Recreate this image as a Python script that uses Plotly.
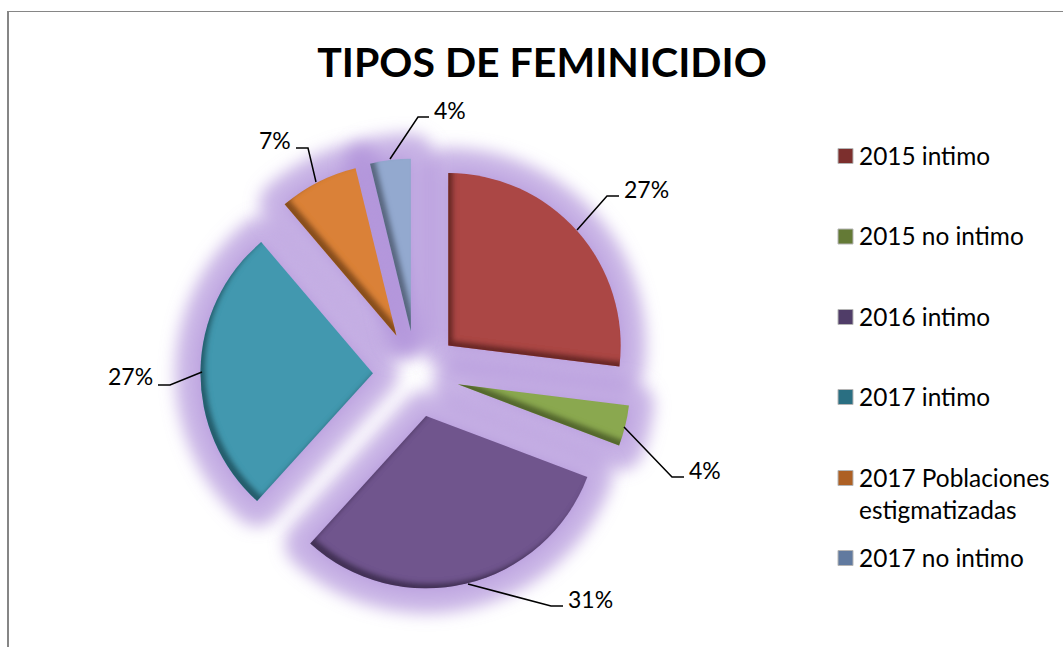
import plotly.graph_objects as go

W, H = 1063, 647

categorias = ["2015 intimo", "2015 no intimo", "2016 intimo", "2017 intimo",
              "2017 Poblaciones<br>estigmatizadas", "2017 no intimo"]
porcentajes = [26.9, 3.8, 30.9, 27.0, 7.4, 3.8]
colores = ["#AB4744", "#8AA84F", "#70558D", "#4298AF", "#DA8137", "#93A9CF"]
colores_leyenda = ["#7C2F2D", "#647A36", "#503D68", "#2A6F82", "#AD6024", "#617A9F"]
FONT = "Lato, Carlito, Calibri, sans-serif"


def px(x):
    return x / W


def py(y):
    return 1 - y / H


# centro de la torta en (416, 374)
lado = 431
dominio = dict(x=[px(416 - lado / 2), px(416 + lado / 2)],
               y=[py(374 + lado / 2), py(374 - lado / 2)])

fig = go.Figure()

# halo morado, se difumina despues con el filtro
fig.add_trace(go.Pie(
    labels=categorias, values=porcentajes, sort=False, direction="clockwise",
    pull=[0.25] * 6, domain=dominio, textinfo="none", showlegend=False,
    hoverinfo="skip",
    marker=dict(colors=["rgba(172,140,216,0.66)"] * 6,
                line=dict(color="rgba(172,140,216,0.66)", width=50)),
))

fig.add_trace(go.Pie(
    labels=categorias, values=porcentajes, sort=False, direction="clockwise",
    pull=[0.25] * 6, domain=dominio, textinfo="none", showlegend=False,
    marker=dict(colors=colores, line=dict(width=0)),
))

shapes = [
    dict(type="line", xref="paper", yref="paper", x0=px(8), x1=px(8), y0=py(11), y1=py(H),
         line=dict(color="#868686", width=2)),
    dict(type="line", xref="paper", yref="paper", x0=px(8), x1=px(W), y0=py(11.5), y1=py(11.5),
         line=dict(color="#868686", width=1)),
]
annotations = []


def texto(x, y, t, anchor="left", size=23):
    annotations.append(dict(x=px(x), y=py(y), xref="paper", yref="paper", text=t, showarrow=False,
                            xanchor=anchor, yanchor="middle",
                            font=dict(family=FONT, size=size, color="black")))


# etiquetas de porcentaje con su linea guia
guias = [
    [(577, 230), (607, 196), (619, 196)],
    [(624, 427), (672, 477), (684, 477)],
    [(468, 584), (551, 606), (563, 606)],
    [(202, 372), (170, 385), (158, 385)],
    [(316, 182), (308, 148), (296, 148)],
    [(390, 159), (418, 117), (429, 117)],
]
pos_etiquetas = [(646, 189), (705, 470), (590, 599), (130, 376), (275, 140), (450, 110)]
for guia, (x, y), v in zip(guias, pos_etiquetas, porcentajes):
    path = "M" + " L".join(f"{px(a)},{py(b)}" for a, b in guia)
    shapes.append(dict(type="path", xref="paper", yref="paper", path=path,
                       line=dict(color="black", width=1.5)))
    texto(x, y, f"{round(v)}%", anchor="center")

# leyenda a mano, el espaciado no es regular
y_leyenda = [156, 236.5, 317, 397, 478, 558]
for cat, color, y in zip(categorias, colores_leyenda, y_leyenda):
    shapes.append(dict(type="rect", xref="paper", yref="paper", x0=px(838), x1=px(853),
                       y0=py(y + 7.5), y1=py(y - 7.5), fillcolor=color,
                       line=dict(color="#B5B5B5", width=1)))
    for i, linea in enumerate(cat.split("<br>")):
        texto(857, y - 1 + i * 32, linea, size=24.4)

fig.update_layout(
    width=W, height=H,
    margin=dict(l=0, r=0, t=0, b=0),
    paper_bgcolor="white",
    title=dict(text="<b>TIPOS DE FEMINICIDIO</b>", x=542 / W, xanchor="center",
               y=py(63), yanchor="middle",
               font=dict(family=FONT, size=41, color="black")),
    shapes=shapes,
    annotations=annotations,
)

post_script = """
document.body.style.margin = '0';
var d = document.createElement('div');
d.innerHTML = '<svg width="0" height="0" style="position:absolute"><defs>' +
  '<filter id="bisel" x="-10%" y="-10%" width="120%" height="120%">' +
  '<feOffset in="SourceAlpha" dx="5" dy="-5"/><feGaussianBlur stdDeviation="2.5" result="b"/>' +
  '<feComposite in="SourceAlpha" in2="b" operator="out" result="borde"/>' +
  '<feFlood flood-color="#000" flood-opacity="0.65"/><feComposite in2="borde" operator="in" result="sombra"/>' +
  '<feMerge><feMergeNode in="SourceGraphic"/><feMergeNode in="sombra"/></feMerge></filter>' +
  '<filter id="halo" filterUnits="userSpaceOnUse" x="-2000" y="-2000" width="4000" height="4000">' +
  '<feGaussianBlur stdDeviation="8"/></filter>' +
  '</defs></svg>';
document.body.appendChild(d);
var gd = document.getElementById('{plot_id}');
function estilo() {
  var trazas = gd.querySelectorAll('.pielayer .trace');
  trazas.forEach(function (t, i) {
    t.querySelectorAll('path.surface').forEach(function (p) {
      p.style.filter = i === trazas.length - 1 ? 'url(#bisel)' : 'url(#halo)';
      p.style.strokeLinejoin = 'round';
    });
  });
}
estilo();
gd.on('plotly_afterplot', estilo);
"""

fig.write_html("out.html", post_script=post_script, config=dict(displayModeBar=False))
